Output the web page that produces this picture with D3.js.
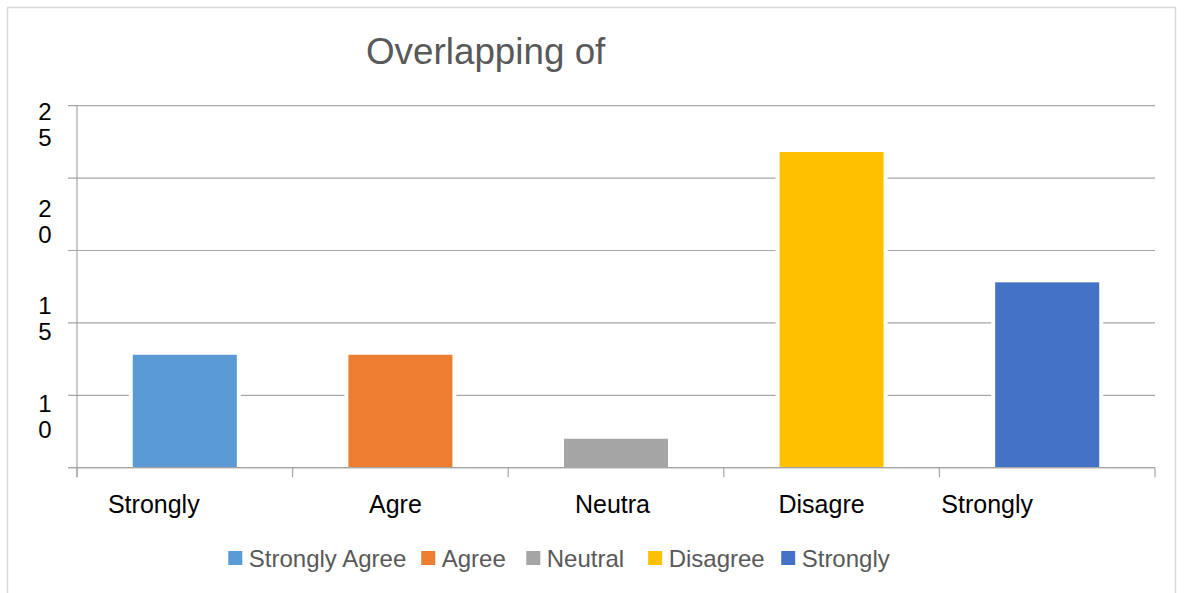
<!DOCTYPE html>
<html>
<head>
<meta charset="utf-8">
<script src="https://cdn.jsdelivr.net/npm/d3@7"></script>
<style>
  html, body { margin: 0; padding: 0; background: #fff; }
  svg { display: block; font-family: "Liberation Sans", Arial, sans-serif; }
</style>
</head>
<body>
<svg id="chart" width="1184" height="593"></svg>
<script>
// ---- data ----
const title = "Overlapping of";
const categories = ["Strongly Agree", "Agree", "Neutral", "Disagree", "Strongly"];
const axisLabels = ["Strongly", "Agre", "Neutra", "Disagre", "Strongly"];
const values = [7.8, 7.8, 2, 21.8, 12.8];
const colors = ["#5B9BD5", "#ED7D31", "#A5A5A5", "#FFC000", "#4472C4"];
const yTicks = [0, 5, 10, 15, 20, 25];
const yLabelValues = [25, 20, 15, 10];
const yLabelTexts = ["25", "20", "15", "10"];
const legendLabels = ["Strongly Agree", "Agree", "Neutral", "Disagree", "Strongly"];

// ---- layout ----
const plot = { left: 77, right: 1155, top: 105.7, bottom: 467.7 };
const labelNudge = [-31, -5, -3.5, -10, -60];
const legendGap = [15, 20.5, 24, 16.5, 0];

const svg = d3.select("#chart");

// frame
svg.append("rect")
  .attr("x", 7.5).attr("y", 7.5)
  .attr("width", 1168).attr("height", 620)
  .attr("fill", "#fff").attr("stroke", "#d9d9d9").attr("stroke-width", 1.5);

const x = d3.scaleBand().domain(categories).range([plot.left, plot.right]).padding(0);
const y = d3.scaleLinear().domain([0, 25]).range([plot.bottom, plot.top]);
const yLab = d3.scaleLinear().domain([10, 25]).range([403, 111]);

// gridlines
svg.append("g").selectAll("line").data(yTicks).join("line")
  .attr("x1", 68).attr("x2", plot.right)
  .attr("y1", d => y(d)).attr("y2", d => y(d))
  .attr("stroke", "#a6a6a6").attr("stroke-width", 1.2);

// y axis line
svg.append("line")
  .attr("x1", plot.left).attr("x2", plot.left)
  .attr("y1", plot.top).attr("y2", plot.bottom + 9.5)
  .attr("stroke", "#a6a6a6").attr("stroke-width", 1.2);

// x ticks at band boundaries
const bounds = categories.map(c => x(c)).concat([plot.right]);
svg.append("g").selectAll("line").data(bounds).join("line")
  .attr("x1", d => d).attr("x2", d => d)
  .attr("y1", plot.bottom).attr("y2", plot.bottom + 9.5)
  .attr("stroke", "#a6a6a6").attr("stroke-width", 1.2);

// bars
const bw = x.bandwidth() * 0.4825;
const bars = svg.append("g");
bars.selectAll("rect.halo").data(values).join("rect")
  .attr("class", "halo")
  .attr("x", (d, i) => x(categories[i]) + x.bandwidth() / 2 - bw / 2 - 4)
  .attr("width", bw + 8)
  .attr("y", d => y(d) - 4)
  .attr("height", d => plot.bottom - y(d) + 3)
  .attr("fill", "#fff");
bars.selectAll("rect.bar").data(values).join("rect")
  .attr("class", "bar")
  .attr("x", (d, i) => x(categories[i]) + x.bandwidth() / 2 - bw / 2)
  .attr("width", bw)
  .attr("y", d => y(d))
  .attr("height", d => plot.bottom - y(d))
  .attr("fill", (d, i) => colors[i]);

// baseline redrawn
svg.append("line")
  .attr("x1", 68).attr("x2", plot.right)
  .attr("y1", y(0)).attr("y2", y(0))
  .attr("stroke", "#a6a6a6").attr("stroke-width", 1.2);

// y labels (digits stacked)
const yl = svg.append("g").selectAll("text").data(yLabelValues).join("text")
  .attr("text-anchor", "middle")
  .attr("font-size", 24)
  .attr("fill", "#000");
yl.each(function(d, i) {
  const t = d3.select(this);
  yLabelTexts[i].split("").forEach((c, k) => {
    t.append("tspan").attr("x", 45).attr("y", yLab(d) + 8.5 + k * 26).text(c);
  });
});

// x labels
svg.append("g").selectAll("text").data(axisLabels).join("text")
  .attr("x", (d, i) => x(categories[i]) + x.bandwidth() / 2 + labelNudge[i])
  .attr("y", 512.5)
  .attr("text-anchor", "middle")
  .attr("font-size", 25)
  .attr("fill", "#000")
  .text(d => d);

// title
svg.append("text")
  .attr("x", 366).attr("y", 64.3)
  .attr("font-size", 36.8)
  .attr("fill", "#595959")
  .text(title);

// legend
const lg = svg.append("g");
let lx = 228.3;
legendLabels.forEach((lab, i) => {
  lg.append("rect").attr("x", lx).attr("y", 551).attr("width", 14).attr("height", 14)
    .attr("fill", colors[i]);
  const t = lg.append("text").attr("x", lx + 20.5).attr("y", 566.7)
    .attr("font-size", 24).attr("fill", "#595959").text(lab);
  const w = t.node().getComputedTextLength();
  lx = lx + 20.5 + w + legendGap[i];
});
</script>
</body>
</html>
